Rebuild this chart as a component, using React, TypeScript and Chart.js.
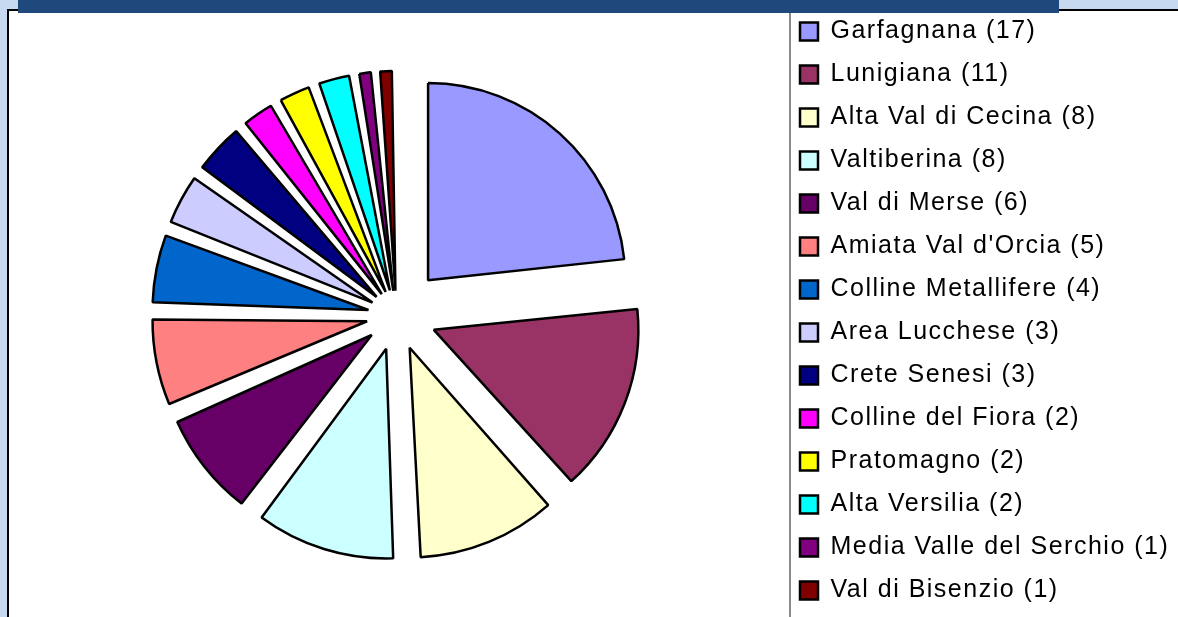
import React, { useEffect, useRef } from "react";
import { Chart, registerables } from "chart.js";

Chart.register(...registerables);

const regions: string[] = [
  "Garfagnana",
  "Lunigiana",
  "Alta Val di Cecina",
  "Valtiberina",
  "Val di Merse",
  "Amiata Val d'Orcia",
  "Colline Metallifere",
  "Area Lucchese",
  "Crete Senesi",
  "Colline del Fiora",
  "Pratomagno",
  "Alta Versilia",
  "Media Valle del Serchio",
  "Val di Bisenzio",
];

const counts: number[] = [17, 11, 8, 8, 6, 5, 4, 3, 3, 2, 2, 2, 1, 1];

const sliceColors: string[] = [
  "#9999FF",
  "#993366",
  "#FFFFCC",
  "#CCFFFF",
  "#660066",
  "#FF8080",
  "#0066CC",
  "#CCCCFF",
  "#000080",
  "#FF00FF",
  "#FFFF00",
  "#00FFFF",
  "#800080",
  "#800000",
];

const CANVAS_W = 1178;
const CANVAS_H = 630;
const LEGEND_W = 396;
const EXPLODE = 47.5; // desired uniform translation of each slice (px)
const LETTER_SPACING = "1.5px";

export default function App() {
  const canvasRef = useRef<HTMLCanvasElement | null>(null);

  useEffect(() => {
    const canvas = canvasRef.current;
    if (!canvas) return;
    const total = counts.reduce((a, b) => a + b, 0);
    // Chart.js translates an arc by offset/4 * (2 - sin(circ)); invert so all slices move equally
    const offsets = counts.map((v) => {
      const circ = (v / total) * Math.PI * 2;
      const k = 2 - Math.sin(Math.min(Math.PI, circ));
      return (4 * EXPLODE) / k;
    });

    const spacingPlugin = {
      id: "letterSpacingAndLegendWidth",
      beforeLayout(chart: any) {
        (chart.ctx as any).letterSpacing = LETTER_SPACING;
        const lg = chart.legend;
        if (lg && !lg.__patched) {
          const origFit = lg.fit.bind(lg);
          lg.fit = function () {
            origFit();
            this.width = LEGEND_W;
          };
          lg.__patched = true;
        }
      },
      beforeDraw(chart: any) {
        (chart.ctx as any).letterSpacing = LETTER_SPACING;
      },
    };

    const chart = new Chart(canvas, {
      type: "pie",
      data: {
        labels: regions,
        datasets: [
          {
            data: counts,
            backgroundColor: sliceColors,
            borderColor: "#000000",
            borderWidth: 2.5,
            offset: offsets,
            hoverOffset: 0,
          } as any,
        ],
      },
      options: {
        responsive: false,
        animation: false,
        events: [],
        radius: 197,
        layout: { padding: { left: 11, top: 1, right: 0, bottom: 0 } },
        plugins: {
          tooltip: { enabled: false },
          legend: {
            display: true,
            position: "right",
            align: "start",
            labels: {
              boxWidth: 18,
              boxHeight: 18,
              padding: 18,
              color: "#000000",
              font: { family: "'Liberation Sans', Arial, sans-serif", size: 25 },
              generateLabels: (ch: any) => {
                const ds = ch.data.datasets[0];
                return (ch.data.labels as string[]).map((name, i) => ({
                  text: `${name} (${ds.data[i]})`,
                  fillStyle: ds.backgroundColor[i],
                  strokeStyle: "#000000",
                  lineWidth: 2.5,
                  fontColor: "#000000",
                  hidden: false,
                  index: i,
                }));
              },
            },
          },
        },
      } as any,
      plugins: [spacingPlugin],
    });

    return () => {
      chart.destroy();
    };
  }, []);

  return (
    <div
      style={{
        position: "fixed",
        left: 0,
        top: 0,
        width: 1178,
        height: 617,
        overflow: "hidden",
        background: "#C6D9F1",
      }}
    >
      <div
        style={{
          position: "absolute",
          left: 7,
          top: 9,
          width: 1300,
          height: 700,
          background: "#FFFFFF",
          borderLeft: "2px solid #000000",
          borderTop: "2px solid #000000",
        }}
      />
      <div
        style={{
          position: "absolute",
          left: 18,
          top: 0,
          width: 1041,
          height: 13,
          background: "#1F497D",
        }}
      />
      <div
        style={{
          position: "absolute",
          left: 789,
          top: 13,
          width: 2,
          height: 700,
          background: "#8A8A8A",
        }}
      />
      <canvas
        ref={canvasRef}
        width={CANVAS_W}
        height={CANVAS_H}
        style={{
          position: "absolute",
          left: 0,
          top: 0,
          width: CANVAS_W,
          height: CANVAS_H,
        }}
      />
    </div>
  );
}
